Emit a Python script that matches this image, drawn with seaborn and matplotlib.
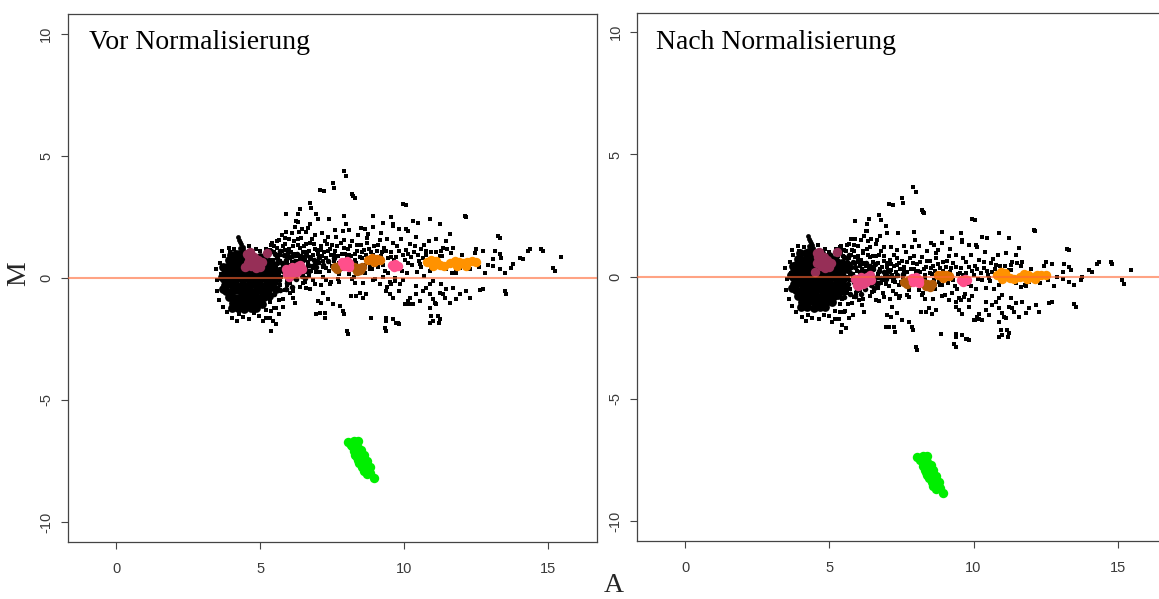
import matplotlib
matplotlib.use("Agg")
import matplotlib.pyplot as plt
import seaborn as sns

sns.set_style("ticks")
plt.rcParams['font.family'] = ['Liberation Sans', 'DejaVu Sans']

# ---------------- data (A, M before "vor", M after "nach") ----------------
# dense core of the cloud (same in both panels)
core_A = [3.98, 4.18, 4.40,
          3.92, 4.12, 4.33, 4.52, 5.15,
          3.84, 4.04, 4.24, 4.45, 4.63, 4.90, 5.12, 5.32,
          3.78, 3.98, 4.19, 4.38, 4.59, 4.80, 5.00, 5.21, 5.40,
          3.74, 3.94, 4.15, 4.36, 4.56, 4.76, 4.97, 5.17, 5.37,
          3.77, 3.98, 4.18, 4.39, 4.60, 4.80, 5.01, 5.22, 5.42,
          3.83, 4.03, 4.24, 4.44, 4.65, 4.86, 5.06, 5.26,
          3.92, 4.12, 4.33, 4.54, 4.74, 4.95, 5.14,
          4.05, 4.26, 4.47, 4.68, 4.88, 5.08,
          4.22, 4.45, 4.68,
          3.68, 3.70, 3.72, 4.02, 4.85, 5.30, 5.45, 5.50, 5.60, 4.70, 5.00, 5.55]
core_M = [0.95, 0.97, 0.93,
          0.72, 0.70, 0.74, 0.71, 0.68,
          0.47, 0.45, 0.49, 0.46, 0.48, 0.44, 0.47, 0.45,
          0.22, 0.20, 0.24, 0.21, 0.23, 0.19, 0.22, 0.20, 0.24,
          -0.03, -0.05, -0.01, -0.04, -0.02, -0.05, -0.03, -0.01, -0.04,
          -0.28, -0.26, -0.30, -0.27, -0.29, -0.26, -0.28, -0.30, -0.27,
          -0.53, -0.55, -0.51, -0.54, -0.52, -0.55, -0.53, -0.51,
          -0.78, -0.80, -0.76, -0.79, -0.77, -0.80, -0.78,
          -1.03, -1.05, -1.01, -1.04, -1.02, -1.05,
          -1.25, -1.27, -1.24,
          0.05, -0.45, 0.45, -1.22, -1.22, -0.75, 0.55, -0.05, 0.30, 0.95, 0.85, -0.45]

# narrow spike above the core (same in both panels)
spike_A = [4.24, 4.28, 4.31, 4.35, 4.39, 4.30, 4.42, 4.36, 4.26, 4.46]
spike_M = [1.66, 1.56, 1.47, 1.38, 1.28, 1.25, 1.18, 1.12, 1.08, 1.05]

# scattered points around the core
halo_A = [3.46, 3.52, 3.50, 3.58, 3.62, 3.69, 3.92, 3.75, 4.04, 4.27,
          4.62, 4.97, 5.20, 5.37, 5.54, 5.66, 3.70, 3.85, 4.40, 4.80,
          5.10, 5.33, 5.45, 5.56, 5.39, 3.95, 4.10, 4.60, 4.85, 5.00,
          3.65, 4.20]
halo_Mv = [0.35, -0.10, -0.55, -0.90, 0.60, 1.10, 1.24, 0.90, -1.63, -1.49,
           -1.70, -1.56, -1.63, -1.35, -1.22, -1.49, -1.20, -1.40, -1.60, -1.45,
           -1.76, -1.63, -1.76, -1.90, -2.17, 1.05, 1.20, 1.30, 1.20, 1.10,
           0.15, -1.75]
halo_Mn = [0.35, -0.10, -0.55, -0.90, 0.60, 1.10, 1.24, 0.90, -1.65, -1.55,
           -1.75, -1.62, -1.73, -1.45, -1.42, -1.69, -1.20, -1.45, -1.70, -1.58,
           -1.86, -1.73, -1.96, -2.10, -2.27, 1.05, 1.20, 1.30, 1.15, 1.00,
           0.15, -1.80]

# dense band right of the core
dense_A = [5.30, 5.45, 5.60, 5.75, 5.90, 6.05, 6.20, 6.35, 6.50, 6.65,
           5.35, 5.55, 5.70, 5.85, 6.00, 6.15, 6.30, 6.45, 6.60,
           5.40, 5.65, 5.95, 6.25, 6.55, 6.80, 7.00, 7.20,
           5.25, 5.38, 5.52, 5.68, 5.82, 5.98, 6.12, 6.28, 6.42, 6.58,
           6.72, 6.88, 7.05, 7.35, 7.55, 5.32, 5.50, 5.70, 5.90, 6.10,
           5.42, 5.58, 5.78, 6.40, 6.70, 6.95]
dense_Mv = [0.75, 0.55, 0.80, 0.60, 0.75, 0.55, 0.70, 0.60, 0.75, 0.55,
            0.25, 0.10, 0.35, 0.15, 0.30, 0.05, 0.20, 0.10, 0.30,
            -0.25, -0.10, -0.20, -0.05, 0.00, 0.50, 0.65, 0.55,
            0.95, 1.10, 1.00, 1.10, 0.95, 1.05, 0.90, 1.00, 0.90, 0.95,
            0.80, 0.75, 0.85, 0.70, 0.80, -0.50, -0.65, -0.50, -0.45, -0.35,
            0.40, 0.60, 0.30, 0.35, 0.30, 0.45]
dense_Mn = [0.65, 0.35, 0.60, 0.40, 0.40, 0.20, 0.25, 0.15, 0.30, 0.00,
            0.15, -0.10, 0.15, -0.20, -0.05, -0.30, -0.25, -0.35, -0.25,
            -0.45, -0.30, -0.55, -0.50, -0.45, -0.05, 0.03, -0.07,
            0.85, 1.00, 0.80, 0.90, 0.60, 0.70, 0.55, 0.55, 0.45, 0.50,
            0.25, 0.20, 0.23, 0.08, 0.10, -0.60, -0.85, -0.70, -0.80, -0.70,
            0.20, 0.40, 0.10, -0.10, -0.25, -0.10]

# fan of points A 5.2 .. 13
band_A = [5.25, 5.30, 5.35, 5.40, 5.45, 5.50, 5.55, 5.60, 5.30, 5.45, 5.55, 5.35, 5.50, 5.20, 5.60, 5.40,
          5.65, 5.70, 5.75, 5.80, 5.85, 5.90, 5.95, 6.00, 5.70, 5.85, 5.95, 5.75, 5.90, 6.00, 5.65, 5.80,
          6.05, 6.10, 6.15, 6.20, 6.25, 6.30, 6.35, 6.40, 6.45, 6.50, 6.10, 6.20, 6.35, 6.45, 6.05, 6.25, 6.40, 6.50,
          6.55, 6.60, 6.65, 6.70, 6.75, 6.80, 6.85, 6.90, 6.95, 7.00, 6.60, 6.75, 6.90, 6.70, 6.95,
          7.05, 7.10, 7.15, 7.20, 7.25, 7.30, 7.35, 7.40, 7.45, 7.50, 7.15, 7.35, 7.20, 7.45,
          7.55, 7.60, 7.70, 7.80, 7.85, 7.95, 7.65, 7.90, 7.75, 8.00,
          8.05, 8.15, 8.20, 8.30, 8.35, 8.45, 8.50, 8.10, 8.40, 8.25,
          8.55, 8.60, 8.70, 8.80, 8.85, 8.95, 8.65, 8.90, 8.75,
          9.05, 9.10, 9.20, 9.30, 9.35, 9.45, 9.15, 9.40, 9.25,
          9.55, 9.65, 9.75, 9.85, 9.95, 10.05, 10.15, 10.25, 9.90, 10.20, 9.70, 10.10,
          10.35, 10.50, 10.60, 10.75, 10.85, 10.95, 10.45, 10.70,
          11.10, 11.30, 11.50, 11.80, 12.00, 12.30, 12.60, 12.90, 11.65, 12.80,
          11.12, 11.29, 11.64, 11.23, 10.65, 10.77, 10.54, 10.90, 11.46, 11.81, 11.93]
band_Mv = [0.90, 0.60, 1.15, 0.30, 0.75, 1.30, 0.50, 0.95, -0.40, -0.70, -0.20, -1.00, -1.25, -1.30, 1.50, 1.45,
           0.20, 0.70, 1.10, 0.45, 1.40, 0.90, 0.60, 1.20, -0.30, -0.50, -0.10, 1.75, 1.90, 1.60, -0.90, -1.20,
           0.80, 0.50, 1.30, 1.00, 0.70, 1.60, 0.90, 1.25, 0.60, 1.05, 1.85, 2.10, 1.90, 2.00, -0.20, 0.00, -0.35, 0.20,
           0.75, 1.40, 0.50, 1.10, 0.85, 1.60, 0.40, 1.20, 0.70, 1.00, 1.90, 2.20, 1.75, 0.10, 0.25,
           0.60, 1.30, 0.90, 0.45, 1.50, 0.80, 1.10, 0.30, 0.95, 1.35, 1.85, 1.70, 0.05, -0.15,
           0.70, 1.10, 0.90, 1.45, 0.35, 1.00, 1.70, 1.25, 0.15, 0.85,
           1.20, 0.90, 1.50, 0.75, 1.10, 0.30, 1.35, 0.15, 1.75, 0.05,
           0.80, 1.15, 1.45, 0.50, 1.05, 1.30, 0.20, 0.35, 1.80,
           1.10, 0.45, 0.90, 1.25, 0.30, 0.80, 1.55, 1.60, 0.05,
           1.05, 0.75, 1.30, 0.40, 0.95, 1.15, 0.60, 0.85, 1.60, 1.40, 0.00, 0.20,
           1.05, 0.70, 1.20, 0.95, 1.50, 0.40, 0.25, 0.10,
           1.05, 0.90, 1.20, 0.30, 0.95, 0.35, 0.45, 0.55, 0.20, 0.20,
           1.58, 1.11, 1.04, 0.90, 0.83, 1.11, 0.56, 0.29, 0.36, 0.22, 0.42]
band_Mn = [0.80, 0.50, 1.05, 0.10, 0.55, 1.10, 0.30, 0.75, -0.50, -0.90, -0.40, -1.10, -1.45, -1.40, 1.30, 1.25,
           0.00, 0.50, 0.90, 0.10, 1.05, 0.55, 0.25, 0.85, -0.50, -0.85, -0.45, 1.55, 1.55, 1.25, -1.10, -1.55,
           0.45, 0.15, 0.95, 0.55, 0.25, 1.15, 0.45, 0.80, 0.15, 0.60, 1.50, 1.65, 1.45, 1.55, -0.55, -0.45, -0.80, -0.25,
           0.30, 0.85, -0.05, 0.55, 0.30, 1.05, -0.15, 0.65, 0.15, 0.38, 1.35, 1.65, 1.20, -0.45, -0.30,
           -0.02, 0.68, 0.28, -0.17, 0.88, 0.18, 0.48, -0.32, 0.33, 0.65, 1.23, 1.08, -0.57, -0.77,
           0.00, 0.40, 0.20, 0.75, -0.35, 0.30, 1.00, 0.55, -0.55, 0.15,
           0.50, 0.20, 0.80, 0.05, 0.40, -0.40, 0.65, -0.55, 1.05, -0.65,
           0.10, 0.45, 0.75, -0.20, 0.35, 0.60, -0.50, -0.35, 1.10,
           0.40, -0.25, 0.20, 0.55, -0.40, 0.10, 0.85, 0.90, -0.65,
           0.35, 0.05, 0.60, -0.30, 0.25, 0.45, -0.10, 0.15, 0.90, 0.70, -0.70, -0.50,
           0.35, 0.05, 0.58, 0.33, 0.88, -0.22, -0.45, -0.52,
           0.43, 0.28, 0.58, -0.32, 0.33, -0.27, -0.12, -0.02, -0.42, -0.37,
           0.96, 0.49, 0.42, 0.28, 0.21, 0.49, -0.06, -0.33, -0.26, -0.40, -0.20]

# further points of the fan
fan_A = [5.22, 5.28, 5.33, 5.38, 5.42, 5.47, 5.52, 5.58, 5.62, 5.68,
         5.72, 5.78, 5.83, 5.88, 5.93, 5.98, 5.26, 5.48, 5.66, 5.86,
         6.02, 6.08, 6.12, 6.18, 6.22, 6.28, 6.32, 6.38, 6.42, 6.48,
         6.52, 6.58, 6.62, 6.68, 6.72, 6.78, 6.82, 6.88, 6.92, 6.98,
         6.15, 6.55, 6.85, 6.30, 6.65,
         7.03, 7.08, 7.13, 7.18, 7.23, 7.28, 7.33, 7.38, 7.43, 7.48,
         7.58, 7.63, 7.68, 7.73, 7.83, 7.88, 7.93, 8.03, 8.08, 8.13,
         8.18, 8.28, 8.33, 8.38, 8.48, 7.30, 7.70, 8.20, 7.60, 8.10,
         8.53, 8.63, 8.68, 8.78, 8.83, 8.93, 8.98, 9.08, 9.13, 9.23,
         9.28, 9.38, 9.43, 9.53, 9.63, 9.73, 9.83, 9.93, 10.03, 10.13,
         8.58, 9.00, 9.40, 9.85, 8.70, 9.20,
         10.28, 10.38, 10.48, 10.58, 10.68, 10.82, 10.92, 10.40]
fan_Mv = [1.20, 0.35, -0.15, 1.35, 0.05, 1.05, 0.25, 1.25, -0.45, 0.95,
          0.05, 1.30, 0.25, 1.15, -0.30, 0.95, -0.75, -0.45, 1.55, 1.65,
          0.35, 1.05, 0.65, 1.50, 0.20, 0.90, 1.35, 0.75, 1.65, 0.85,
          1.30, 0.35, 1.05, 0.65, 1.45, 0.30, 0.95, 1.40, 0.55, 1.15,
          -0.55, -0.15, -0.10, 2.30, 2.05,
          0.85, 0.25, 1.15, 0.70, 1.05, 0.40, 1.40, 0.65, 1.20, 0.50,
          0.95, 0.40, 1.30, 0.60, 1.00, 0.70, 1.55, 0.40, 0.95, 1.30,
          0.55, 1.00, 0.60, 1.35, 0.85, -0.10, -0.05, -0.05, 1.95, 1.95,
          1.05, 0.55, 0.95, 1.20, 0.35, 0.95, 0.55, 1.35, 0.70, 1.05,
          0.55, 1.10, 0.20, 0.85, 1.45, 0.85, 1.10, 0.30, 0.75, 1.00,
          -0.20, -0.05, -0.35, -0.25, 1.65, 1.85,
          0.55, 1.30, 0.95, 0.45, 1.35, 0.75, 1.05, 1.70]
fan_Mn = [1.12, 0.25, -0.25, 1.20, -0.15, 0.85, 0.05, 1.05, -0.65, 0.75,
          -0.15, 1.10, -0.10, 0.80, -0.65, 0.60, -0.85, -0.65, 1.35, 1.30,
          0.00, 0.70, 0.30, 1.05, -0.25, 0.45, 0.90, 0.30, 1.20, 0.40,
          0.85, -0.10, 0.50, 0.10, 0.90, -0.25, 0.40, 0.85, 0.00, 0.58,
          -0.90, -0.60, -0.65, 1.85, 1.50,
          0.23, -0.37, 0.53, 0.08, 0.43, -0.22, 0.78, 0.03, 0.58, -0.20,
          0.25, -0.30, 0.60, -0.10, 0.30, 0.00, 0.85, -0.30, 0.25, 0.60,
          -0.15, 0.30, -0.10, 0.65, 0.15, -0.72, -0.75, -0.75, 1.25, 1.25,
          0.35, -0.15, 0.25, 0.50, -0.35, 0.25, -0.15, 0.65, 0.00, 0.35,
          -0.15, 0.40, -0.50, 0.15, 0.75, 0.15, 0.40, -0.40, 0.05, 0.30,
          -0.90, -0.75, -1.05, -0.95, 0.95, 1.15,
          -0.15, 0.60, 0.25, -0.17, 0.73, 0.13, 0.43, 1.00]

# upper outliers
upper_A = [7.90, 7.99, 7.53, 7.56, 7.07, 7.21, 8.20, 8.28, 8.24, 6.72,
           6.78, 6.37, 6.31, 6.26, 5.89, 6.95, 7.01, 7.39, 7.93, 7.97,
           8.92, 9.55, 9.27, 9.61, 9.96, 10.05, 12.10, 12.15, 10.89, 10.31,
           10.48, 10.08, 10.13, 11.23, 11.58, 11.46, 8.51, 8.92, 8.63, 7.88,
           9.84, 9.61, 13.26, 13.32, 12.51, 12.45, 12.74, 13.14, 13.32, 13.37,
           13.09, 14.01, 14.13, 14.36, 14.30, 14.76, 14.82, 15.46, 15.17, 15.23,
           13.78, 13.72, 13.49, 13.09, 13.32, 11.70, 11.35]
upper_Mv = [4.39, 4.18, 3.91, 3.70, 3.59, 3.57, 3.43, 3.29, 3.36, 3.09,
            2.88, 2.81, 2.61, 2.34, 2.61, 2.61, 2.40, 2.40, 2.54, 2.20,
            2.54, 2.50, 2.27, 2.20, 3.05, 3.00, 2.54, 2.50, 2.40, 2.34,
            2.27, 1.99, 1.93, 2.20, 1.79, 1.52, 2.06, 2.09, 1.99, 1.93,
            1.99, 2.13, 1.72, 1.65, 1.17, 1.04, 1.10, 1.10, 0.97, 0.83,
            0.77, 0.83, 0.77, 1.17, 1.10, 1.17, 1.10, 0.86, 0.42, 0.29,
            0.56, 0.42, 0.22, 0.49, 0.36, 1.24, 1.24]
upper_Mn = [3.69, 3.48, 3.21, 3.00, 2.97, 2.95, 2.73, 2.59, 2.66, 2.54,
            2.33, 2.36, 2.16, 1.89, 2.26, 2.06, 1.78, 1.78, 1.84, 1.50,
            1.84, 1.80, 1.57, 1.50, 2.35, 2.30, 1.92, 1.88, 1.78, 1.64,
            1.57, 1.29, 1.23, 1.58, 1.17, 0.90, 1.36, 1.39, 1.29, 1.23,
            1.29, 1.43, 1.15, 1.08, 0.60, 0.42, 0.53, 0.53, 0.40, 0.26,
            0.20, 0.26, 0.20, 0.60, 0.53, 0.60, 0.53, 0.29, -0.15, -0.28,
            -0.01, -0.15, -0.35, -0.08, -0.21, 0.62, 0.62]

# lower outliers
lower_A = [12.74, 13.49, 13.55, 12.16, 12.28, 11.93, 11.81, 11.70, 11.46, 11.29,
           11.00, 10.89, 10.77, 10.65, 10.42, 11.23, 11.41, 11.58, 10.89, 11.00,
           11.12, 10.19, 10.13, 10.02, 10.31, 9.84, 9.61, 9.50, 10.89, 11.00,
           11.18, 11.23, 9.73, 9.84, 9.32, 9.38, 8.86, 9.38, 8.00, 8.05,
           8.46, 8.34, 8.17, 8.69, 8.57, 6.95, 7.07, 7.24, 7.88, 7.76,
           7.53, 7.36, 7.18, 7.01, 7.12, 6.60, 6.72, 6.89, 6.49, 6.14,
           6.20, 5.79, 6.03, 7.27, 7.90, 9.79, 10.06, 10.20, 10.95, 11.20,
           12.62, 11.35, 10.54, 10.42, 11.06, 10.90, 9.55, 9.38, 9.67, 9.38,
           9.61, 7.42, 7.75, 8.92, 9.15, 9.50, 9.96, 8.30, 7.10]
lower_Mv = [-0.46, -0.53, -0.67, -0.53, -0.81, -0.67, -0.87, -0.40, -0.46, -0.26,
            -0.12, -0.26, -0.40, -0.53, -0.33, -0.60, -0.81, -1.01, -0.67, -0.87,
            -1.08, -0.81, -0.94, -1.08, -1.08, -0.53, -0.81, -0.67, -1.83, -1.76,
            -1.56, -1.69, -1.83, -1.90, -2.04, -2.17, -1.63, -1.76, -2.17, -2.31,
            -0.60, -0.74, -0.74, -0.67, -0.81, -1.49, -1.42, -1.42, -1.35, -1.15,
            -1.08, -0.87, -0.60, -0.94, -1.01, -0.40, -0.46, -0.26, -0.19, -0.81,
            -1.01, -0.87, -0.60, -1.64, -1.48, -1.84, -1.07, -1.05, -1.56, -1.84,
            -0.50, -0.67, -0.94, -0.67, -1.01, -1.22, -0.26, -0.53, -0.12, -1.63,
            -1.69, -0.25, -0.15, -0.10, -0.25, -0.18, -0.10, -0.20, -0.30]
lower_Mn = [-1.03, -1.10, -1.24, -1.15, -1.43, -1.29, -1.49, -1.02, -1.08, -0.88,
            -0.74, -0.88, -1.02, -1.15, -1.03, -1.22, -1.43, -1.63, -1.29, -1.49,
            -1.70, -1.51, -1.64, -1.78, -1.78, -1.23, -1.51, -1.37, -2.45, -2.38,
            -2.18, -2.31, -2.53, -2.60, -2.74, -2.87, -2.33, -2.46, -2.87, -3.01,
            -1.30, -1.44, -1.44, -1.37, -1.51, -2.04, -2.04, -2.04, -2.05, -1.85,
            -1.78, -1.49, -1.22, -1.56, -1.63, -0.95, -1.01, -0.81, -0.64, -1.16,
            -1.46, -1.07, -0.95, -2.26, -2.18, -2.54, -1.77, -1.75, -2.18, -2.46,
            -1.07, -1.29, -1.56, -1.37, -1.63, -1.84, -0.96, -1.23, -0.82, -2.33,
            -2.39, -0.87, -0.85, -0.80, -0.95, -0.88, -0.80, -0.90, -0.92]

# coloured control spots
maroon_A = [4.55, 4.65, 4.60, 4.72, 4.78, 4.86, 4.95, 5.05, 5.00, 4.85, 4.70, 4.48, 5.25, 4.62, 4.58, 4.80, 4.92]
maroon_Mv = [1.00, 1.05, 0.85, 0.90, 0.72, 0.60, 0.55, 0.65, 0.45, 0.40, 0.50, 0.45, 1.02, 0.70, 0.62, 0.85, 0.75]
maroon_Mn = [0.95, 1.00, 0.80, 0.85, 0.67, 0.55, 0.50, 0.58, 0.38, 0.35, 0.45, 0.20, 1.00, 0.65, 0.57, 0.80, 0.70]

pink1_A = [5.90, 6.05, 6.20, 6.35, 6.45, 5.95, 6.15, 6.40, 6.00, 6.28, 6.10, 6.30]
pink1_Mv = [0.35, 0.30, 0.40, 0.45, 0.35, 0.15, 0.20, 0.55, 0.05, 0.25, 0.45, 0.50]
pink1_Mn = [-0.10, -0.15, -0.08, -0.05, -0.15, -0.32, -0.28, 0.05, -0.40, -0.22, -0.02, 0.00]

brown_A = [7.60, 7.75, 8.25, 8.40, 8.55, 8.35, 7.68, 8.48]
brown_Mv = [0.45, 0.50, 0.45, 0.40, 0.45, 0.30, 0.35, 0.32]
brown_Mn = [-0.20, -0.15, -0.25, -0.30, -0.28, -0.40, -0.30, -0.42]

pink2_A = [7.85, 8.00, 8.10, 7.90, 8.10, 7.98]
pink2_Mv = [0.65, 0.70, 0.60, 0.50, 0.45, 0.58]
pink2_Mn = [-0.05, 0.00, -0.12, -0.20, -0.25, -0.12]

dorange_A = [8.75, 8.90, 9.05, 9.15, 8.95]
dorange_Mv = [0.75, 0.80, 0.78, 0.72, 0.65]
dorange_Mn = [0.05, 0.08, 0.06, 0.02, -0.05]

pink3_A = [9.58, 9.70, 9.78, 9.65]
pink3_Mv = [0.55, 0.58, 0.50, 0.45]
pink3_Mn = [-0.12, -0.08, -0.15, -0.20]

orange_A = [10.80, 10.95, 11.10, 11.00, 11.25, 11.40, 11.60, 11.75, 11.90, 12.05, 12.20, 12.35, 12.50, 11.85, 12.15]
orange_Mv = [0.65, 0.75, 0.70, 0.50, 0.55, 0.50, 0.60, 0.70, 0.65, 0.60, 0.65, 0.70, 0.65, 0.50, 0.50]
orange_Mn = [0.05, 0.20, 0.15, -0.08, -0.05, -0.10, 0.00, 0.10, 0.05, 0.00, 0.05, 0.08, 0.05, -0.10, -0.08]

green_A = [8.05, 8.25, 8.40, 8.20, 8.40, 8.25, 8.45, 8.60, 8.35, 8.55, 8.70, 8.45, 8.65, 8.80, 8.60, 8.78, 8.70, 8.94,
           8.15, 8.30, 8.32, 8.50, 8.40, 8.62, 8.55, 8.75, 8.68, 8.52, 8.30, 8.82]
green_Mv = [-6.72, -6.68, -6.70, -6.90, -6.95, -7.10, -7.15, -7.25, -7.35, -7.45, -7.50, -7.60, -7.70, -7.75, -7.90, -7.95, -8.05, -8.18,
            -6.85, -6.80, -7.05, -7.30, -7.45, -7.55, -7.75, -7.80, -7.60, -7.05, -7.25, -8.00]
green_Mn = [-7.37, -7.33, -7.35, -7.55, -7.60, -7.75, -7.80, -7.90, -8.00, -8.10, -8.15, -8.25, -8.35, -8.40, -8.55, -8.60, -8.70, -8.83,
            -7.50, -7.45, -7.70, -7.95, -8.10, -8.20, -8.40, -8.45, -8.25, -7.70, -7.90, -8.65]

titles = ["Vor Normalisierung", "Nach Normalisierung"]
x_ticks = [0, 5, 10, 15]
y_ticks = [-10, -5, 0, 5, 10]

# ---------------- drawing ----------------
W, H = 1159, 599
fig = plt.figure(figsize=(W / 100, H / 100), dpi=100)
ax1 = fig.add_axes([67.7 / W, (H - 541.5) / H, 528.8 / W, 527.0 / H])
ax2 = fig.add_axes([637.1 / W, (H - 540.7) / H, 528.8 / W, 528.0 / H])

small_A = halo_A + band_A + fan_A + upper_A + lower_A
small_Mv = halo_Mv + band_Mv + fan_Mv + upper_Mv + lower_Mv
small_Mn = halo_Mn + band_Mn + fan_Mn + upper_Mn + lower_Mn

colored = [
    (maroon_A, maroon_Mv, maroon_Mn, "#962f57"),
    (pink1_A, pink1_Mv, pink1_Mn, "#e3467f"),
    (brown_A, brown_Mv, brown_Mn, "#b05a08"),
    (pink2_A, pink2_Mv, pink2_Mn, "#ff4f8b"),
    (dorange_A, dorange_Mv, dorange_Mn, "#e07200"),
    (pink3_A, pink3_Mv, pink3_Mn, "#ff4f8b"),
    (orange_A, orange_Mv, orange_Mn, "#ff9200"),
    (green_A, green_Mv, green_Mn, "#00ee00"),
]


def draw(ax, which, title, tx, ty):
    Ms = small_Mv if which == 0 else small_Mn
    Md = dense_Mv if which == 0 else dense_Mn
    sns.scatterplot(x=small_A, y=Ms, ax=ax, s=7, marker="s", color="black", linewidth=0, legend=False)
    sns.scatterplot(x=dense_A, y=Md, ax=ax, s=16, color="black", linewidth=0, legend=False)
    sns.scatterplot(x=core_A, y=core_M, ax=ax, s=40, color="black", linewidth=0, legend=False)
    sns.scatterplot(x=spike_A, y=spike_M, ax=ax, s=12, color="black", linewidth=0, legend=False)
    for a, mv, mn, c in colored:
        sns.scatterplot(x=a, y=(mv if which == 0 else mn), ax=ax, s=46, color=c,
                        linewidth=0, legend=False)
    ax.axhline(0, color="#ff6633", alpha=0.6, lw=1.5, zorder=5)
    ax.set_xlim(-1.68, 16.68)
    ax.set_ylim(-10.8, 10.8)
    ax.set_xticks(x_ticks)
    ax.set_yticks(y_ticks)
    ax.set_xticklabels([str(t) for t in x_ticks])
    ax.set_yticklabels([str(t) for t in y_ticks], rotation=90, va="center")
    ax.tick_params(axis="both", direction="out", length=5, width=0.8, color="#444444",
                   labelsize=10.5, labelcolor="#3a3a3a", bottom=True, left=True)
    ax.tick_params(axis="x", pad=9.5)
    ax.tick_params(axis="y", pad=5.5)
    ax.set_xlabel("")
    ax.set_ylabel("")
    for sp in ax.spines.values():
        sp.set_visible(True)
        sp.set_color("#444444")
        sp.set_linewidth(0.9)
    ax.text(tx, ty, title, transform=ax.transAxes, ha="left", va="baseline",
            fontfamily="Liberation Serif", fontsize=20, color="black")


draw(ax1, 0, titles[0], 0.0403, 0.9345)
draw(ax2, 1, titles[1], 0.0357, 0.9307)

fig.text(19 / W, 1 - 274 / H, "M", rotation=90, ha="center", va="center",
         fontfamily="Liberation Serif", fontsize=20)
fig.text(614 / W, 1.0 / H, "A", ha="center", va="bottom",
         fontfamily="Liberation Serif", fontsize=20)

fig.savefig("out.png", dpi=100)
